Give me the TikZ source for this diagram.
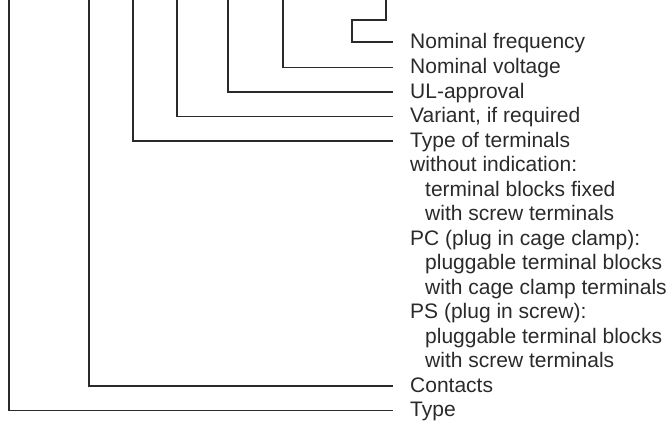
\documentclass[tikz,border=0pt]{standalone}
\usepackage{fontspec}
\setmainfont{Liberation Sans}
\definecolor{ink}{HTML}{2A2A2A}
\begin{document}
\begin{tikzpicture}[x=1pt, y=-1pt,
        codetext/.style={anchor=west, inner sep=0pt, text=ink, font=\fontsize{21}{24}\selectfont, text height=16pt, text depth=4pt},
        subtext/.style={codetext, xshift=15pt},
        lead/.style={draw=ink, line width=1.1pt}
    ]
    \useasboundingbox (0,0) rectangle (667,434);

    % Define labels
    \node[codetext] (nf) at (410,42) {Nominal frequency};
    \node[codetext] (nv) at (410,67.5) {Nominal voltage};
    \node[codetext] (ul) at (410,92) {UL-approval};
    \node[codetext] (var) at (410,116.5) {Variant, if required};
    \node[codetext] (tt) at (410,141) {Type of terminals};
    \node[codetext] (wi) at (410,165.5) {without indication:};
    \node[subtext] (wi1) at (410,190) {terminal blocks fixed};
    \node[subtext] (wi2) at (410,214.5) {with screw terminals};
    \node[codetext] (pc) at (410,239) {PC (plug in cage clamp):};
    \node[subtext] (pc1) at (410,263.5) {pluggable terminal blocks};
    \node[subtext] (pc2) at (410,288) {with cage clamp terminals};
    \node[codetext] (ps) at (410,312.5) {PS (plug in screw):};
    \node[subtext] (ps1) at (410,337) {pluggable terminal blocks};
    \node[subtext] (ps2) at (410,361.5) {with screw terminals};
    \node[codetext] (con) at (410,386) {Contacts};
    \node[codetext] (typ) at (410,410.5) {Type};

    % Define code positions
    \coordinate (fq) at (386,0);
    \coordinate (vo) at (283,0);
    \coordinate (ua) at (228,0);
    \coordinate (va) at (177,0);
    \coordinate (te) at (133,0);
    \coordinate (co) at (89,0);
    \coordinate (ty) at (9,0);

    % Define leads
    \draw[lead] (fq) |- (352,20) |- ([xshift=-17pt]nf.west);
    \draw[lead] (vo) |- ([xshift=-17pt]nv.west);
    \draw[lead] (ua) |- ([xshift=-17pt]ul.west);
    \draw[lead] (va) |- ([xshift=-17pt]var.west);
    \draw[lead] (te) |- ([xshift=-17pt]tt.west);
    \draw[lead] (co) |- ([xshift=-17pt]con.west);
    \draw[lead] (ty) |- ([xshift=-17pt]typ.west);

\end{tikzpicture}
\end{document}
